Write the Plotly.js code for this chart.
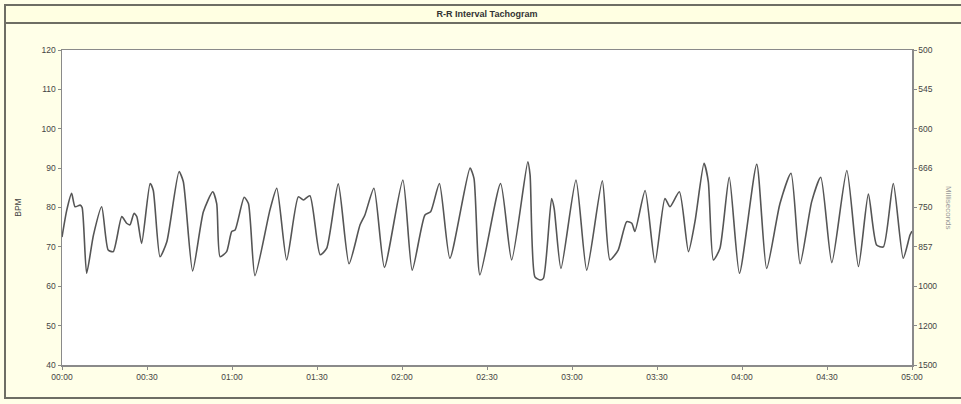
<!DOCTYPE html>
<html>
<head>
<meta charset="utf-8">
<script src="https://cdn.plot.ly/plotly-3.0.1.min.js"></script>
<style>html,body{margin:0;padding:0;background:#ffffe8;}#chart{width:961px;height:404px;}</style>
</head>
<body>
<div id="chart"></div>
<script>
// Time in seconds and heart rate in BPM
const timeSec = [0,1.7,3.4,4.6,6.4,7.1,8.7,11.1,14.0,16.3,18.1,21.1,22.8,24.0,25.4,26.4,28.1,31.1,32.2,34.6,37.0,41.3,42.8,46.1,49.9,53.2,54.6,55.8,58.1,59.9,61.1,64.3,65.8,68.1,73.4,75.8,79.3,83.4,85.2,87.5,91.1,93.4,97.5,101.3,105.2,106.9,110.1,113.8,120.3,123.6,128.1,130.1,133.2,136.9,144.0,145.4,147.5,154.8,158.7,164.4,165.2,166.9,168.7,169.9,172.8,173.7,176.1,181.4,185.2,190.7,193.4,196.3,199.3,201.1,202.2,205.8,209.3,212.8,214.6,217.9,221.1,223.4,226.6,228.1,229.9,232.2,235.5,239.1,245.2,248.7,253.4,257.3,260.5,264.6,267.8,271.7,277.0,281.1,284.6,287.5,289.9,293.4,296.9,299.3,300];
const bpm = [72.5,79.4,83.6,80.2,80.6,80.0,63.3,73.0,80.2,69.2,68.8,77.7,76.0,75.6,78.5,77.7,70.9,86.1,84.4,67.5,71.3,89.1,86.6,63.9,78.9,84.0,81.0,67.5,68.8,73.9,74.3,82.6,81.0,62.7,79.4,84.9,66.7,82.7,81.9,83.0,68.0,69.6,86.0,65.7,75.6,78.1,84.9,64.8,87.0,64.1,78.1,78.9,86.1,67.1,90.0,87.4,62.9,86.1,66.7,91.6,88.3,62.4,61.6,62.0,82.3,79.8,64.5,87.0,64.1,86.8,66.7,69.2,76.4,76.0,73.9,84.3,66.0,82.3,80.2,84.0,68.8,76.4,91.2,86.6,66.7,69.6,87.7,63.3,91.0,64.5,81.0,88.7,65.7,81.5,87.7,66.0,89.4,65.0,83.4,70.5,70.0,86.1,67.1,73.0,74.0];

const xTickVals = [0,30,60,90,120,150,180,210,240,270,300];
const xTickText = ["00:00","00:30","01:00","01:30","02:00","02:30","03:00","03:30","04:00","04:30","05:00"];
const bpmTicks = [40,50,60,70,80,90,100,110,120];
const msTickText = ["1500","1200","1000","857","750","666","600","545","500"];

const tickFont = {family: "Liberation Sans Narrow, Arial Narrow, Liberation Sans, Arial, sans-serif", size: 8.5, color: "#444"};

const trace = {
  x: timeSec, y: bpm, type: "scatter", mode: "lines",
  line: {color: "#555555", width: 1.6, shape: "spline", smoothing: 0.6},
  hoverinfo: "skip", showlegend: false
};
// same series mapped on the millisecond axis (invisible) so that axis is drawn
const traceMs = {
  x: timeSec, y: bpm, type: "scatter", mode: "lines", yaxis: "y2",
  line: {color: "rgba(0,0,0,0)", width: 0}, opacity: 0,
  hoverinfo: "skip", showlegend: false
};

const layout = {
  width: 961, height: 404,
  paper_bgcolor: "#ffffe8", plot_bgcolor: "#ffffff",
  margin: {l: 62, r: 49, t: 50, b: 39},
  showlegend: false,
  xaxis: {
    range: [0, 300], tickvals: xTickVals, ticktext: xTickText,
    showgrid: false, zeroline: false, showline: true, linecolor: "#8a8a8a", linewidth: 1.5,
    mirror: true, ticks: "outside", ticklen: 3, tickcolor: "#8a8a8a", tickfont: tickFont
  },
  yaxis: {
    range: [40, 120], tickvals: bpmTicks, ticktext: bpmTicks.map(String),
    showgrid: false, zeroline: false, showline: true, linecolor: "#8a8a8a", linewidth: 1.5,
    ticks: "outside", ticklen: 3, tickcolor: "#8a8a8a", tickfont: tickFont,
    title: {text: "BPM", font: tickFont, standoff: 18}
  },
  yaxis2: {
    overlaying: "y", side: "right", range: [40, 120],
    tickvals: bpmTicks, ticktext: msTickText,
    showgrid: false, zeroline: false, showline: true, linecolor: "#8a8a8a", linewidth: 1.5,
    ticks: "outside", ticklen: 3, tickcolor: "#8a8a8a", tickfont: tickFont
  },
  title: {
    text: "<b>R-R Interval Tachogram</b>",
    font: {family: "Liberation Sans, Arial, sans-serif", size: 9, color: "#333"},
    x: 0.5, xref: "paper", xanchor: "center", y: 1 - 14/404, yref: "container", yanchor: "middle"
  },
  annotations: [{
    text: "Milliseconds", xref: "paper", yref: "paper", x: 1 + 43/850, y: 0.5,
    showarrow: false, textangle: 90, font: {family: tickFont.family, size: 8, color: "#999"}
  }],
  shapes: [
    {type: "rect", xref: "paper", yref: "paper", x0: (5-62)/850, x1: (975-62)/850, y0: (365-5)/315, y1: (365-23)/315,
     line: {color: "#6e6e64", width: 2}, fillcolor: "#ffffe2", layer: "below"},
    {type: "rect", xref: "paper", yref: "paper", x0: (5-62)/850, x1: (975-62)/850, y0: (365-398)/315, y1: (365-5)/315,
     line: {color: "#6e6e64", width: 2}, fillcolor: "rgba(0,0,0,0)", layer: "below"}
  ]
};

Plotly.newPlot("chart", [trace, traceMs], layout, {staticPlot: true, displayModeBar: false});
</script>
</body>
</html>
